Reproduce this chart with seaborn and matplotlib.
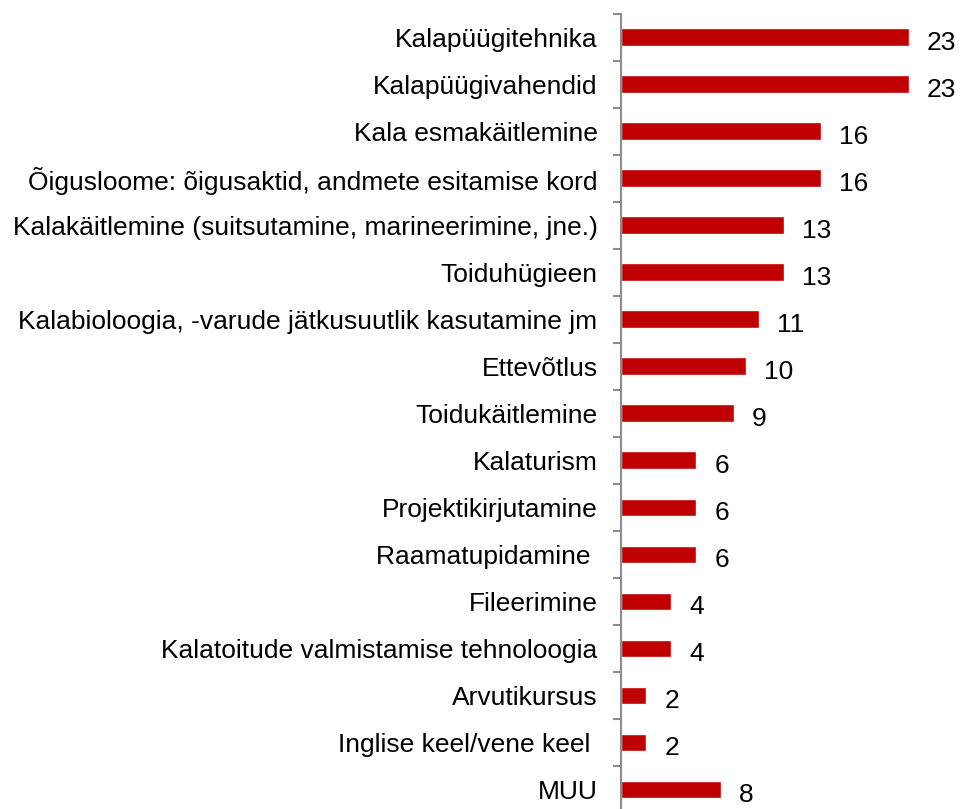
import pandas as pd
import matplotlib.pyplot as plt
import seaborn as sns
from matplotlib.ticker import FixedLocator

categories = [
    "Kalapüügitehnika",
    "Kalapüügivahendid",
    "Kala esmakäitlemine",
    "Õigusloome: õigusaktid, andmete esitamise kord",
    "Kalakäitlemine (suitsutamine, marineerimine, jne.)",
    "Toiduhügieen",
    "Kalabioloogia, -varude jätkusuutlik kasutamine jm",
    "Ettevõtlus",
    "Toidukäitlemine",
    "Kalaturism",
    "Projektikirjutamine",
    "Raamatupidamine ",
    "Fileerimine",
    "Kalatoitude valmistamise tehnoloogia",
    "Arvutikursus",
    "Inglise keel/vene keel ",
    "MUU",
]
counts = [23, 23, 16, 16, 13, 13, 11, 10, 9, 6, 6, 6, 4, 4, 2, 2, 8]

df = pd.DataFrame({"category": categories, "count": counts})

sns.set_style("white")
plt.rcParams["font.family"] = ["Liberation Sans", "DejaVu Sans"]
plt.rcParams["text.color"] = "black"

fig = plt.figure(figsize=(9.6, 8.09), dpi=100)
ax = fig.add_axes([0.647, -0.005, 0.352, 0.988])

sns.barplot(data=df, x="count", y="category", orient="h", color="#C00000",
            width=0.38, ax=ax, saturation=1)

ax.set_xlim(0, 27)
ax.set_ylim(len(categories) - 0.5, -0.5)
ax.set_xlabel("")
ax.set_ylabel("")
ax.set_xticks([])

for s in ["top", "right", "bottom"]:
    ax.spines[s].set_visible(False)
ax.spines["left"].set_color("#8c8c8c")
ax.spines["left"].set_linewidth(1.5)

# ticks between the categories, labels without ticks
ax.yaxis.set_minor_locator(FixedLocator([i - 0.5 for i in range(len(categories) + 1)]))
ax.tick_params(axis="y", which="major", length=0, pad=17, labelsize=19, labelcolor="black")
ax.tick_params(axis="y", which="minor", length=6, width=1.5, color="#8c8c8c", left=True)
for lbl in ax.get_yticklabels():
    lbl.set_verticalalignment("center_baseline")

labels = ax.bar_label(ax.containers[0], padding=13, fontsize=19, color="black")
for t in labels:
    t.set_verticalalignment("center_baseline")
    t.xyann = (t.xyann[0], -2)

fig.savefig("out.png", dpi=100)
